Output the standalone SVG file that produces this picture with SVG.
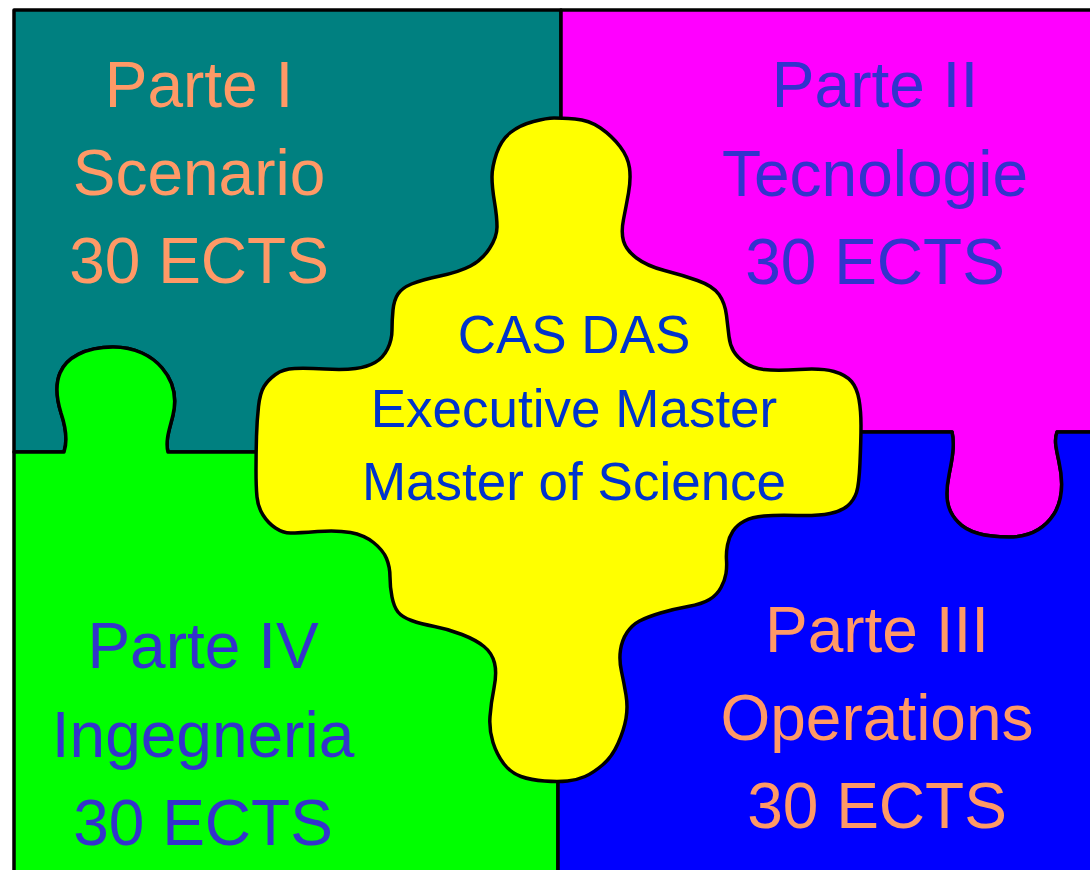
<svg xmlns="http://www.w3.org/2000/svg" width="1090" height="870" viewBox="0 0 1090 870">
<style>
.piece{stroke:#000;stroke-width:3.5;stroke-linejoin:round}
.t{font-family:"Liberation Sans",Arial,sans-serif;font-size:64px;text-anchor:middle}
.c{font-family:"Liberation Sans",Arial,sans-serif;font-size:53px;text-anchor:middle;fill:#0033CC}
.or{fill:#FF9966}
.pu{fill:#3333CC}
</style>
<rect width="1090" height="870" fill="#fff"/>
<g id="parte1">
<path class="piece" fill="#008080" d="M14,10 H561 V452 H168 C165,440 170,428 173,415 C177,398 174,382 162,368 C152,356 135,347 113,347 C85,347 66,358 60,373 C55,385 57,400 61,413 C65,425 68,440 64,452 H14 Z"/>
<text class="t or" x="199" y="107">Parte I</text>
<text class="t or" x="199" y="195">Scenario</text>
<text class="t or" x="199" y="283">30 ECTS</text>
</g>
<g id="parte2">
<path class="piece" fill="#FF00FF" d="M561,10 H1100 V432 H1057 C1054,440 1056,448 1059,462 C1063,480 1064,498 1054,514 C1045,528 1030,537 1009,537 C985,537 968,533 958,522 C946,510 945,495 949,475 C952,460 955,445 952,432 H561 Z"/>
<text class="t pu" x="875" y="107">Parte II</text>
<text class="t pu" x="875" y="196">Tecnologie</text>
<text class="t pu" x="875" y="284">30 ECTS</text>
</g>
<g id="parte4">
<path class="piece" fill="#00FF00" d="M14,452 H64 C68,440 65,425 61,413 C57,400 55,385 60,373 C66,358 85,347 113,347 C135,347 152,356 162,368 C174,382 177,398 173,415 C170,428 165,440 168,452 H558 V880 H14 Z"/>
<text class="t pu" x="203" y="668">Parte IV</text>
<text class="t pu" x="203" y="757">Ingegneria</text>
<text class="t pu" x="203" y="845">30 ECTS</text>
</g>
<g id="parte3">
<path class="piece" fill="#0000FF" d="M558,432 H952 C955,445 952,460 949,475 C945,495 946,510 958,522 C968,533 985,537 1009,537 C1030,537 1045,528 1054,514 C1064,498 1063,480 1059,462 C1056,448 1054,440 1057,432 H1100 V880 H558 Z"/>
<text class="t or" x="877" y="652">Parte III</text>
<text class="t or" x="877" y="740">Operations</text>
<text class="t or" x="877" y="828">30 ECTS</text>
</g>
<g id="centro">
<path class="piece" fill="#FFFF00" d="M554,118 Q561,118 575,119 Q589,120 600.5,128 Q612,136 620,146.5 Q628,157 629.5,168 Q631,179 628.5,193 Q626,207 623.5,219.5 Q621,232 623.5,241 Q626,250 636.5,258 Q647,266 664.5,270.5 Q682,275 697.5,280.5 Q713,286 719,294.5 Q725,303 726.5,315.5 Q728,328 729,336.5 Q730,345 733.5,351 Q737,357 744.5,362.5 Q752,368 764,369.5 Q776,371 799,369.5 Q822,368 834,371.5 Q846,375 851.5,381.5 Q857,388 859,399.5 Q861,411 861,425.5 Q861,440 860,462.5 Q859,485 856.5,492.5 Q854,500 848,505.5 Q842,511 830,513.5 Q818,516 797,515.5 Q776,515 764,516 Q752,517 744.5,521 Q737,525 733,531 Q729,537 727.5,545 Q726,553 726.5,560 Q727,567 726,573.5 Q725,580 721,587.5 Q717,595 709.5,599.5 Q702,604 688,606.5 Q674,609 660.5,613 Q647,617 639.5,621 Q632,625 627,632.5 Q622,640 620.5,650 Q619,660 621.5,671.5 Q624,683 626,695 Q628,707 626,718.5 Q624,730 618,743.5 Q612,757 602.5,765 Q593,773 585,776.5 Q577,780 567.5,781 Q558,782 544.5,781 Q531,780 521,776.5 Q511,773 504,764 Q497,755 493,742.5 Q489,730 490,716.5 Q491,703 494,688 Q497,673 494.5,663 Q492,653 484,646.5 Q476,640 462,634.5 Q448,629 434.5,626.5 Q421,624 411.5,620.5 Q402,617 398,612 Q394,607 392,597 Q390,587 390,577 Q390,567 386.5,558.5 Q383,550 373.5,542.5 Q364,535 350.5,532.5 Q337,530 317.5,531.5 Q298,533 290.5,533 Q283,533 275.5,528 Q268,523 263,515 Q258,507 257,497 Q256,487 256,470 Q256,453 256.5,436.5 Q257,420 258.5,406.5 Q260,393 264,386.5 Q268,380 275.5,374.5 Q283,369 294.5,368.5 Q306,368 325,369 Q344,370 355.5,368.5 Q367,367 375,362.5 Q383,358 387.5,349 Q392,340 392,330 Q392,320 393,310 Q394,300 398,294 Q402,288 411.5,284 Q421,280 440,276 Q459,272 470.5,266 Q482,260 489.5,248.5 Q497,237 497,227 Q497,217 494.5,202 Q492,187 492,177 Q492,167 496.5,153.5 Q501,140 510.5,132.5 Q520,125 533.5,121.5 Q547,118 554,118 Z"/>
<text class="c" x="574" y="353">CAS DAS</text>
<text class="c" x="574" y="427">Executive Master</text>
<text class="c" x="574" y="500">Master of Science</text>
</g>
<g id="connectors"/>
</svg>
